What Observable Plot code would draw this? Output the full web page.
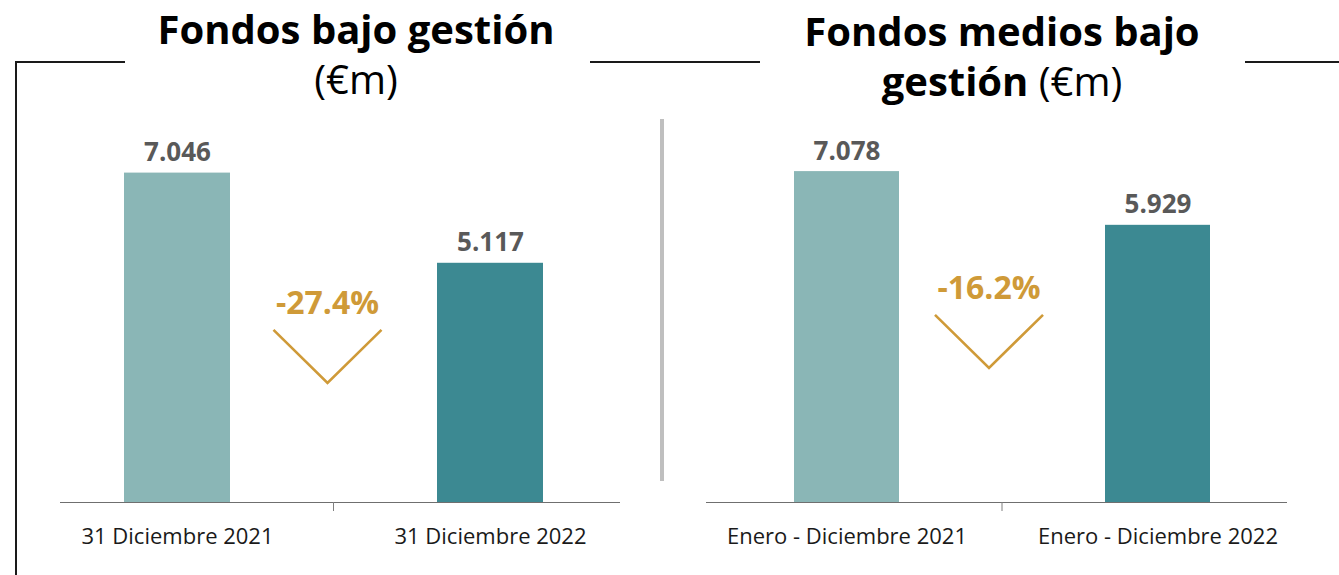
<!DOCTYPE html>
<html>
<head>
<meta charset="utf-8">
<script src="https://cdn.jsdelivr.net/npm/d3@7"></script>
<script src="https://cdn.jsdelivr.net/npm/@observablehq/plot@0.6"></script>
<style>
  html, body { margin: 0; padding: 0; background: #fff; }
  body { width: 1339px; height: 575px; position: relative; overflow: hidden; font-family: "Open Sans", Lato, sans-serif; }
  .abs { position: absolute; }
  .hline { position: absolute; height: 2px; background: #1a1a1a; }
  .vline { position: absolute; width: 2px; background: #1a1a1a; }
  .title { position: absolute; text-align: center; font-size: 40px; line-height: 50px; color: #000; white-space: nowrap; }
  .title b { font-weight: 700; }
  .title span { font-weight: 400; }
</style>
</head>
<body>
<div class="hline" style="left:15px; top:61px; width:110px;"></div>
<div class="vline" style="left:15px; top:61px; height:520px;"></div>
<div class="hline" style="left:590px; top:61px; width:170px;"></div>
<div class="hline" style="left:1245px; top:61px; width:94px;"></div>
<div class="abs" style="left:660px; top:119px; width:4px; height:362px; background:#bfbfbf;"></div>

<div id="title1" class="title" style="left:136px; top:4px; width:440px;"></div>
<div id="title2" class="title" style="left:772px; top:6px; width:460px;"></div>

<div id="chart1" class="abs" style="left:60px; top:100px;"></div>
<div id="chart2" class="abs" style="left:706px; top:100px;"></div>

<script>
// ---- data ----
const panel1Title = ["Fondos bajo gestión", "(€m)"];
const panel1Categories = ["31 Diciembre 2021", "31 Diciembre 2022"];
const panel1Values = [7046, 5117];

const panel2Title = ["Fondos medios bajo", "gestión", "(€m)"];
const panel2Categories = ["Enero - Diciembre 2021", "Enero - Diciembre 2022"];
const panel2Values = [7078, 5929];

const barColors = ["#8AB6B6", "#3C8992"];

// ---- helpers ----
const FONT = "'Open Sans', Lato, sans-serif";
const esLocale = d3.formatLocale({decimal: ",", thousands: ".", grouping: [3], currency: ["", "€"]});
const fmtValue = esLocale.format(",d");
const fmtPct = (v) => (v * 100).toFixed(1) + "%";

document.getElementById("title1").innerHTML =
  `<b>${panel1Title[0]}</b><br><span>${panel1Title[1]}</span>`;
document.getElementById("title2").innerHTML =
  `<b>${panel2Title[0]}</b><br><b>${panel2Title[1]}</b> <span>${panel2Title[2]}</span>`;

function makePanel({categories, values, width, xRange, chevronY, annDx}) {
  const data = categories.map((c, i) => ({cat: c, value: values[i], color: barColors[i]}));
  const change = (values[1] - values[0]) / values[0];

  const annotation = (index, scales) => {
    const x = scales.x, y = scales.y;
    const bw = x.bandwidth();
    const c0 = x(categories[0]) + bw / 2;
    const c1 = x(categories[1]) + bw / 2;
    const mid = (c0 + c1) / 2;
    const cx = mid + annDx;
    const top = y(chevronY);
    const base = y(0);
    const g = d3.create("svg:g");
    g.append("line")
      .attr("x1", mid).attr("x2", mid)
      .attr("y1", base).attr("y2", base + 9)
      .attr("stroke", "#7f7f7f").attr("stroke-width", 1);
    g.append("path")
      .attr("d", `M${cx - 54},${top}L${cx},${top + 53}L${cx + 54},${top}`)
      .attr("fill", "none").attr("stroke", "#CF9A38").attr("stroke-width", 2.6);
    g.append("text")
      .attr("x", cx).attr("y", top - 16)
      .attr("text-anchor", "middle")
      .attr("font-family", FONT)
      .attr("font-size", 32).attr("font-weight", 700)
      .attr("fill", "#CF9A38")
      .text(fmtPct(change));
    return g.node();
  };

  return Plot.plot({
    width,
    height: 475,
    marginTop: 28,
    marginBottom: 73,
    marginLeft: 0,
    marginRight: 0,
    style: {fontFamily: FONT, background: "transparent", overflow: "visible"},
    x: {domain: categories, range: xRange, paddingInner: 0.662, paddingOuter: 0, label: null},
    y: {domain: [0, 8000], axis: null},
    marks: [
      Plot.barY(data, {x: "cat", y: "value", fill: "color"}),
      Plot.ruleY([0], {stroke: "#6f6f6f", strokeWidth: 1}),
      Plot.text(data, {
        x: "cat", y: "value", text: (d) => fmtValue(d.value),
        dy: -12, lineAnchor: "bottom",
        fontSize: 26, fontWeight: 700, fill: "#595959"
      }),
      Plot.axisX({tickSize: 0, tickPadding: 26, fontSize: 22, fill: "#1a1a1a", label: null}),
      annotation
    ]
  });
}

document.getElementById("chart1").append(makePanel({
  categories: panel1Categories, values: panel1Values,
  width: 560, xRange: [64, 483], chevronY: 3683, annDx: -6
}));
document.getElementById("chart2").append(makePanel({
  categories: panel2Categories, values: panel2Values,
  width: 581, xRange: [88, 505], chevronY: 4004, annDx: -13
}));
</script>
</body>
</html>
